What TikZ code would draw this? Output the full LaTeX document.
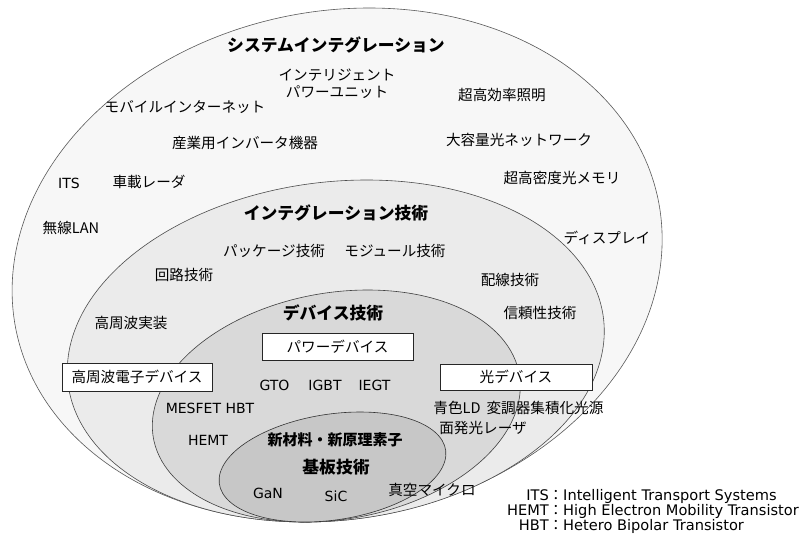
\documentclass[tikz,border=0pt]{standalone}
\usepackage{fontspec}
\setmainfont{Noto Sans CJK JP}
\newfontfamily\lat{DejaVu Sans}
\begin{document}
\begin{tikzpicture}[x=1pt,y=-1pt,
  every node/.style={inner sep=0pt, text=black},
  lbl/.style={font=\fontsize{14.6}{16.5}\selectfont},
  hd/.style={font=\fontsize{16.8}{19}\selectfont\bfseries},
  en/.style={font=\fontsize{14}{16}\selectfont\lat},
  lg/.style={font=\fontsize{14.6}{16}\selectfont\lat},
  box/.style={draw=black!85, fill=white, line width=0.7pt, font=\fontsize{14.6}{16.5}\selectfont},
  ring/.style={line width=0.6pt}]
\useasboundingbox (0,0) rectangle (808,535);
\fill[white] (0,0) rectangle (808,535);
% nested ellipses, all touching at the bottom
\begin{scope}[shift={(305,522)}, xslant=0.125]
  \path[ring, draw=black!65, fill=black!3] (0,-257) ellipse [x radius=323.4pt, y radius=257pt];
\end{scope}
\begin{scope}[shift={(305,522)}, xslant=0.18]
  \path[ring, draw=black!70, fill=black!8] (0,-171) ellipse [x radius=266.7pt, y radius=171pt];
\end{scope}
\begin{scope}[shift={(305,522)}, xslant=0.27]
  \path[ring, draw=black!75, fill=black!15] (0,-116) ellipse [x radius=181.3pt, y radius=116pt];
\end{scope}
\begin{scope}[shift={(305,522)}, xslant=0.5]
  \path[ring, draw=black!80, fill=black!22] (0,-55) ellipse [x radius=110pt, y radius=55pt];
\end{scope}
% system integration
\node[hd] (sys) at (336,45) {システムインテグレーション};
\node[lbl, align=center] (ipu) at (337,84) {インテリジェント\\パワーユニット};
\node[lbl] (mob) at (185,107) {モバイルインターネット};
\node[lbl] (inv) at (245,143) {産業用インバータ機器};
\node[en] (its) at (69,183) {ITS};
\node[lbl] (car) at (149,182) {車載レーダ};
\node[lbl] (wlan) at (71,228) {無線LAN};
\node[lbl] (light) at (502,95) {超高効率照明};
\node[lbl] (net) at (519,140) {大容量光ネットワーク};
\node[lbl] (mem) at (562,178) {超高密度光メモリ};
\node[lbl] (disp) at (607,238) {ディスプレイ};
% integration technology
\node[hd] (integ) at (336,213) {インテグレーション技術};
\node[lbl] (pkg) at (274,251) {パッケージ技術};
\node[lbl] (mod) at (395,251) {モジュール技術};
\node[lbl] (circ) at (184,275) {回路技術};
\node[lbl] (rfmount) at (131,323) {高周波実装};
\node[lbl] (wire) at (510,280) {配線技術};
\node[lbl] (rel) at (540,313) {信頼性技術};
% device technology
\node[hd] (dev) at (333,313) {デバイス技術};
\node[box, minimum width=151pt, minimum height=27pt] (pbox) at (337.5,346.5) {パワーデバイス};
\node[box, minimum width=150pt, minimum height=28pt] (hbox) at (137,377) {高周波電子デバイス};
\node[box, minimum width=152pt, minimum height=26pt] (obox) at (516,377) {光デバイス};
\node[en] (gto) at (274.5,385) {GTO};
\node[en] (igbt) at (325,385) {IGBT};
\node[en] (iegt) at (374.5,385) {IEGT};
\node[en] (mes) at (210,408) {MESFET HBT};
\node[en] (hemt) at (208,440) {HEMT};
\node[lbl] (bld) at (457,408) {青色LD};
\node[lbl] (mod2) at (545,408) {変調器集積化光源};
\node[lbl] (vcsel) at (483,428) {面発光レーザ};
% substrate
\node[font=\fontsize{15}{17}\selectfont\bfseries] (newmat) at (335,440) {新材料・新原理素子};
\node[hd] (sub) at (336,467) {基板技術};
\node[en] (gan) at (268,493) {GaN};
\node[en] (sic) at (336,496) {SiC};
\node[lbl] (vac) at (432,490) {真空マイクロ};
% legend
\node[lg, anchor=base east] (la) at (549,500) {ITS};
\node[lg, anchor=base] (lac) at (556,500) {\fontspec{Noto Sans CJK JP}：};
\node[lg, anchor=base west] (lad) at (563,500) {Intelligent Transport Systems};
\node[lg, anchor=base east] (lb) at (549,515.5) {HEMT};
\node[lg, anchor=base] (lbc) at (556,515.5) {\fontspec{Noto Sans CJK JP}：};
\node[lg, anchor=base west] (lbd) at (563,515.5) {High Electron Mobility Transistor};
\node[lg, anchor=base east] (lc) at (549,530.5) {HBT};
\node[lg, anchor=base] (lcc) at (556,530.5) {\fontspec{Noto Sans CJK JP}：};
\node[lg, anchor=base west] (lcd) at (563,530.5) {Hetero Bipolar Transistor};
\end{tikzpicture}
\end{document}
